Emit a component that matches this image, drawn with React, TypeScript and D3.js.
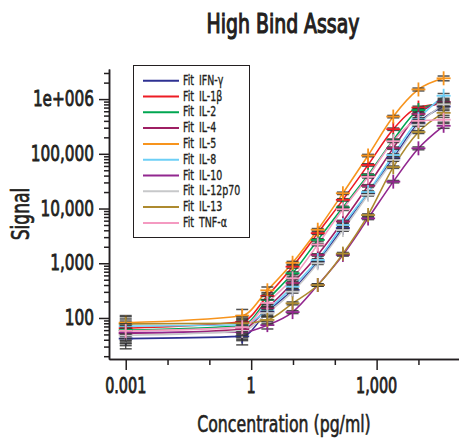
import React, { useEffect, useRef } from 'react';
import * as d3 from 'd3';

// concentrations (pg/ml), 4-fold dilution plus the blank plotted at 0.001
const conc = [0.001, 0.61, 2.44, 9.77, 39.1, 156, 625, 2500, 10000, 40000];

const ifng = [42, 46, 130, 325, 1070, 4400, 19000, 83000, 365000, 730000];
const il1b = [65, 85, 253, 865, 3550, 14400, 62700, 282000, 700000, 820000];
const il2 = [60, 72, 215, 656, 2670, 10500, 41000, 178000, 630000, 860000];
const il4 = [52, 62, 152, 435, 1420, 5800, 26000, 127000, 535000, 890000];
const il5 = [82, 110, 320, 1020, 4100, 19000, 93000, 479000, 1500000, 2400000];
const il8 = [71, 75, 140, 373, 1150, 5000, 20000, 95000, 430000, 1150000];
const il10 = [54, 55, 74, 128, 400, 1420, 6600, 31000, 126000, 325000];
const il12 = [48, 58, 123, 303, 1000, 4050, 17800, 77000, 340000, 800000];
const il13 = [78, 80, 92, 185, 400, 1500, 7600, 57000, 250000, 560000];
const tnfa = [58, 68, 188, 530, 2200, 9700, 38000, 170000, 400000, 420000];

// relative error (fraction) at each concentration
const errFrac = [0.35, 0.3, 0.15, 0.06, 0.05, 0.05, 0.05, 0.05, 0.06, 0.1];

const names = ['IFN-\u03b3', 'IL-1\u03b2', 'IL-2', 'IL-4', 'IL-5', 'IL-8', 'IL-10', 'IL-12p70', 'IL-13', 'TNF-\u03b1'];
const colors = ['#2e3192', '#ed1c24', '#00a651', '#9e1f63', '#f7941d', '#6dcff6', '#92278f', '#c7c8ca', '#ad8a2f', '#f49ac1'];
const values = [ifng, il1b, il2, il4, il5, il8, il10, il12, il13, tnfa];

const xMajor = [0.001, 1, 1000];
const xMinor = [0.01, 0.1, 10, 100, 10000];
const yMajor = [100, 1000, 10000, 100000, 1000000];
const yLabels = ['100', '1,000', '10,000', '100,000', '1e+006'];
const xLabels = ['0.001', '1', '1,000'];

const FONT = "'DejaVu Sans Condensed', 'DejaVu Sans', sans-serif";
const INK = '#231f20';
const STRETCH = 1.28; // the original face is tall and narrow

const Chart = () => {
  const svgRef = useRef(null);

  useEffect(() => {
    const svg = d3.select(svgRef.current);
    svg.selectAll('*').remove();
    svg.attr('font-family', FONT).style('font-stretch', 'condensed');

    const x = d3.scaleLog().domain([Math.pow(10, -3.4), Math.pow(10, 4.97)]).range([109, 459]);
    const y = d3.scaleLog().domain([Math.pow(10, 1.25), Math.pow(10, 6.55)]).range([359, 69]);

    const label = (tx, ty, txt, size, anchor, heavy, rot = 0) =>
      svg.append('text')
        .attr('transform', `translate(${tx},${ty}) rotate(${rot}) scale(1,${STRETCH})`)
        .attr('text-anchor', anchor)
        .attr('font-size', size)
        .attr('fill', INK)
        .attr('stroke', INK)
        .attr('stroke-width', heavy)
        .text(txt);

    // title
    label(283, 33, 'High Bind Assay', 21, 'middle', 0.9);

    // y axis
    const yMinor = y.ticks().filter(v => !yMajor.includes(v));
    const gyMinor = svg.append('g').attr('transform', 'translate(109,0)')
      .call(d3.axisLeft(y).tickValues(yMinor).tickFormat(() => '').tickSize(5).tickSizeOuter(0));
    const gy = svg.append('g').attr('transform', 'translate(109,0)')
      .call(d3.axisLeft(y).tickValues(yMajor).tickFormat(() => '').tickSize(10).tickSizeOuter(0));

    // x axis
    const gxMinor = svg.append('g').attr('transform', 'translate(0,359)')
      .call(d3.axisBottom(x).tickValues(xMinor).tickFormat(() => '').tickSize(6).tickSizeOuter(0));
    const gx = svg.append('g').attr('transform', 'translate(0,359)')
      .call(d3.axisBottom(x).tickValues(xMajor).tickFormat(() => '').tickSize(11).tickSizeOuter(0));

    [gyMinor, gy, gxMinor, gx].forEach(g => {
      g.attr('font-family', null);
      g.selectAll('path,line').attr('stroke', INK).attr('stroke-width', 1.5);
    });

    yMajor.forEach((v, i) => label(94, y(v) + 7, yLabels[i], 17, 'end', 0.6));
    xMajor.forEach((v, i) => label(x(v), 393, xLabels[i], 16, 'middle', 0.6));

    // axis titles
    label(284, 432, 'Concentration (pg/ml)', 17.5, 'middle', 0.45);
    label(29, 214, 'Signal', 19, 'middle', 0.5, -90);

    // fit lines, error bars, markers
    const line = d3.line()
      .x(d => x(d[0]))
      .y(d => y(d[1]))
      .curve(d3.curveMonotoneX);

    const plot = svg.append('g');
    values.forEach((vals, s) => {
      const pts = conc.map((c, i) => [c, vals[i]]);
      plot.append('path')
        .attr('d', line(pts))
        .attr('fill', 'none')
        .attr('stroke', colors[s])
        .attr('stroke-width', 1.6);
    });

    values.forEach((vals, s) => {
      const g = plot.append('g');
      conc.forEach((c, i) => {
        const cx = x(c);
        const v = vals[i];
        const hi = y(v * (1 + errFrac[i]));
        const lo = y(v * (1 - errFrac[i]));
        g.append('line').attr('x1', cx).attr('x2', cx).attr('y1', hi).attr('y2', lo)
          .attr('stroke', '#333').attr('stroke-width', 1.2);
        [hi, lo].forEach(yy => {
          g.append('line').attr('x1', cx - 6).attr('x2', cx + 6).attr('y1', yy).attr('y2', yy)
            .attr('stroke', '#333').attr('stroke-width', 1.5).attr('opacity', 0.85);
        });
        const cy = y(v);
        g.append('line').attr('x1', cx - 7).attr('x2', cx + 7).attr('y1', cy).attr('y2', cy)
          .attr('stroke', colors[s]).attr('stroke-width', 1.8);
        g.append('line').attr('x1', cx).attr('x2', cx).attr('y1', cy - 7).attr('y2', cy + 7)
          .attr('stroke', colors[s]).attr('stroke-width', 1.8);
      });
    });

    // legend
    const leg = svg.append('g');
    leg.append('rect')
      .attr('x', 133.5).attr('y', 65.5).attr('width', 116).attr('height', 172)
      .attr('fill', 'white').attr('stroke', INK).attr('stroke-width', 1);
    names.forEach((n, i) => {
      const ly = 80.7 + i * 15.8;
      leg.append('line').attr('x1', 143).attr('x2', 179).attr('y1', ly).attr('y2', ly)
        .attr('stroke', colors[i]).attr('stroke-width', 2);
      const t = leg.append('text')
        .attr('transform', `translate(183,${ly + 4}) scale(1,${STRETCH})`)
        .attr('font-size', 10.5).attr('fill', INK)
        .attr('stroke', INK).attr('stroke-width', 0.25);
      t.append('tspan').text('Fit');
      t.append('tspan').attr('dx', 5).text(n);
    });
  }, []);

  return <svg ref={svgRef} width={459} height={440} style={{ position: 'absolute', left: 0, top: 0 }}></svg>;
};

export default function App() {
  return <Chart />;
}
